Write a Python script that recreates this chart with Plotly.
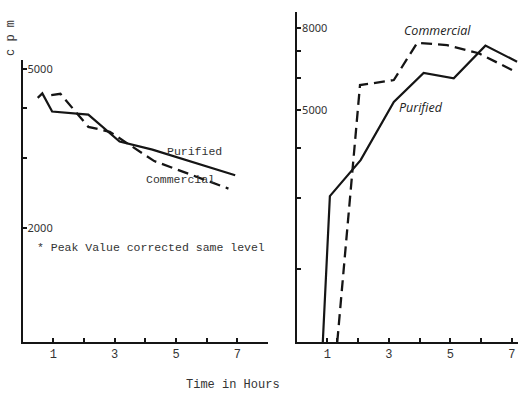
import math
import plotly.graph_objects as go

# Left panel: counts per minute, typewritten labels
left_purified_x = [0.49, 0.64, 0.96, 2.14, 3.16, 4.23, 6.93]
left_purified_y = [4230, 4340, 3910, 3840, 3290, 3140, 2710]
left_commercial_x = [0.93, 1.23, 2.14, 2.84, 4.29, 6.71]
left_commercial_y = [4300, 4330, 3580, 3480, 2940, 2510]

# Right panel: counts per minute, hand-lettered labels
right_purified_x = [0.85, 1.08, 2.08, 3.16, 4.13, 5.11, 6.14, 7.17]
right_purified_y = [1312, 3040, 3740, 5230, 6180, 5990, 7230, 6590]
right_commercial_x = [1.32, 2.06, 3.16, 3.92, 4.89, 5.92, 7.01]
right_commercial_y = [1312, 5760, 5930, 7350, 7250, 6920, 6280]

x_tick_vals = [1, 2, 3, 4, 5, 6, 7]
x_tick_text = ["1", "", "3", "", "5", "", "7"]
right_x_tick_vals = [1, 1.3, 2, 3, 4, 5, 6, 7]
right_x_tick_text = ["1", "", "", "3", "", "5", "", "7"]
left_y_tick_vals = [2000, 3000, 4000, 5000]
left_y_tick_text = ["2000", "", "", "5000"]
right_y_tick_vals = [2000, 3000, 4000, 5000, 6000, 7000, 8000]
right_y_tick_text = ["", "", "", "5000", "", "", "8000"]

W, H = 518, 394
INK = "#151515"
TYPE = "Liberation Mono, Courier New, monospace"
HAND = "Open Sans, sans-serif"


def px(x):
    return x / W


def py(y):
    return 1 - y / H


fig = go.Figure()

line_solid = dict(color=INK, width=2.2)
line_dash = dict(color=INK, width=2.3, dash="11px,6px")

fig.add_trace(go.Scatter(x=left_purified_x, y=left_purified_y, mode="lines",
                         line=line_solid, xaxis="x", yaxis="y", showlegend=False))
fig.add_trace(go.Scatter(x=left_commercial_x, y=left_commercial_y, mode="lines",
                         line=line_dash, xaxis="x", yaxis="y", showlegend=False))
fig.add_trace(go.Scatter(x=right_purified_x, y=right_purified_y, mode="lines",
                         line=line_solid, xaxis="x2", yaxis="y2", showlegend=False))
fig.add_trace(go.Scatter(x=right_commercial_x, y=right_commercial_y, mode="lines",
                         line=line_dash, xaxis="x2", yaxis="y2", showlegend=False))

axis_common = dict(showgrid=False, zeroline=False, showline=True, linecolor=INK,
                   linewidth=2, ticks="inside", ticklen=4, tickwidth=1.5,
                   tickcolor=INK)

fig.update_layout(
    width=W, height=H,
    margin=dict(l=0, r=0, t=0, b=0),
    paper_bgcolor="white", plot_bgcolor="white",
    xaxis=dict(axis_common, domain=[px(22.7), px(268)], range=[0, 8.0],
               tickvals=x_tick_vals, ticktext=x_tick_text,
               ticklabeloverflow="allow",
               tickfont=dict(family=TYPE, size=12, color="#333"),
               anchor="y"),
    yaxis=dict(axis_common, domain=[py(342), py(60)], type="log",
               range=[math.log10(1038), math.log10(5260)],
               tickvals=left_y_tick_vals, ticktext=left_y_tick_text,
               ticklabelposition="inside",
               tickfont=dict(family="Noto Sans, sans-serif", size=11, color="#333"),
               anchor="x"),
    xaxis2=dict(axis_common, domain=[px(297.3), 1.0], range=[0.02, 7.2],
                tickvals=right_x_tick_vals, ticktext=right_x_tick_text,
                ticklabeloverflow="allow",
                tickfont=dict(family=TYPE, size=12, color="#333"),
                anchor="y2"),
    yaxis2=dict(axis_common, domain=[py(342), py(11.7)], type="log",
                range=[math.log10(1312), math.log10(8790)],
                tickvals=right_y_tick_vals, ticktext=right_y_tick_text,
                ticklabelposition="inside",
                tickfont=dict(family="Noto Sans, sans-serif", size=11, color="#333"),
                anchor="x2"),
)


def note(text, x, y, family, size, angle=0, italic=False, color="#333"):
    fig.add_annotation(text=text, x=px(x), y=py(y), xref="paper", yref="paper",
                       xanchor="center", yanchor="middle",
                       showarrow=False, textangle=angle,
                       font=dict(family=family, size=size, color=color,
                                 style="italic" if italic else "normal"))


note("c p m", 11, 38, TYPE, 12, angle=-90)
note("Purified", 194, 151, TYPE, 11.5)
note("Commercial", 180, 179, TYPE, 11.5)
note("* Peak Value corrected same level", 151, 247, TYPE, 11.5)
note("Time in Hours", 233, 385, TYPE, 12)
note("Commercial", 437, 31, HAND, 12.5, italic=True, color="#222")
note("Purified", 421, 108, HAND, 12.5, italic=True, color="#222")

fig.write_html("out.html")
